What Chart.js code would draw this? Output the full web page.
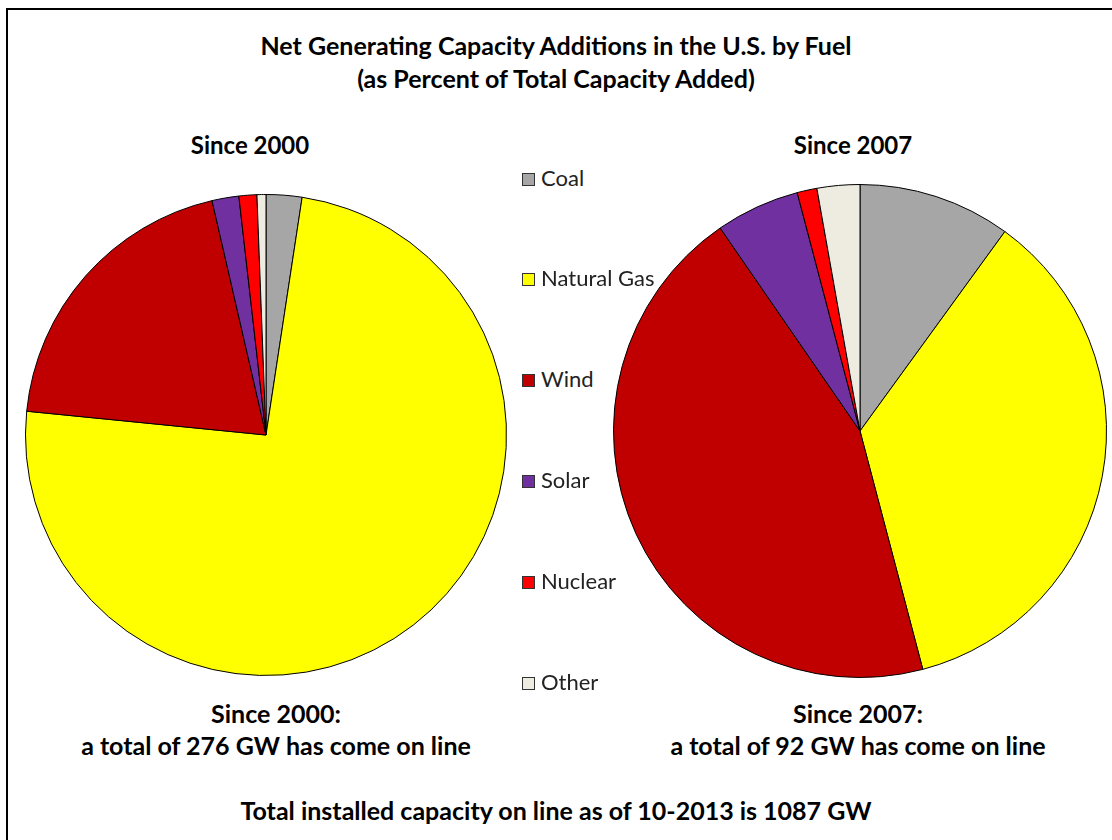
<!DOCTYPE html>
<html lang="en">
<head>
<meta charset="UTF-8">
<title>Net Generating Capacity Additions</title>
<script src="https://cdn.jsdelivr.net/npm/chart.js@4.4.0/dist/chart.umd.min.js"></script>
<style>
  body { margin: 0; background: #fff; }
  #page { position: relative; width: 1112px; height: 840px; overflow: hidden; font-family: Lato, Carlito, Calibri, sans-serif; color: #000; }
  #frame { position: absolute; left: 6px; top: 8px; width: 1120px; height: 900px; border-left: 2px solid #000; border-top: 2px solid #000; }
  .txt { position: absolute; text-align: center; white-space: nowrap; line-height: 1; }
  .b { font-weight: bold; }
  canvas { position: absolute; }
  .leg { position: absolute; left: 522px; font-size: 22px; color: #222; line-height: 1; white-space: nowrap; }
  .leg span { display: inline-block; width: 11px; height: 11px; border: 1px solid #333; margin-right: 6px; vertical-align: 0px; }
</style>
</head>
<body>
<div id="page">
  <div id="frame"></div>
  <div class="txt b" style="left:206px;width:700px;top:33px;font-size:25px;">Net Generating Capacity Additions in the U.S. by Fuel</div>
  <div class="txt b" style="left:206px;width:700px;top:66px;font-size:25px;">(as Percent of Total Capacity Added)</div>
  <div class="txt b" style="left:100px;width:300px;top:133px;font-size:24px;">Since 2000</div>
  <div class="txt b" style="left:703px;width:300px;top:133px;font-size:24px;">Since 2007</div>

  <canvas id="pie2000" width="482" height="482" style="left:25px;top:194px;"></canvas>
  <canvas id="pie2007" width="494" height="494" style="left:613px;top:184px;"></canvas>

  <div id="legend"></div>

  <div class="txt b" style="left:76px;width:400px;top:701px;font-size:25px;">Since 2000:</div>
  <div class="txt b" style="left:26px;width:500px;top:733px;font-size:25px;">a total of 276 GW has come on line</div>
  <div class="txt b" style="left:658px;width:400px;top:701px;font-size:25px;">Since 2007:</div>
  <div class="txt b" style="left:608px;width:500px;top:733px;font-size:25px;">a total of 92 GW has come on line</div>
  <div class="txt b" style="left:156px;width:800px;top:798px;font-size:25px;">Total installed capacity on line as of 10-2013 is 1087 GW</div>
</div>

<script>
// parts du total ajouté (%)
const fuels = ['Coal', 'Natural Gas', 'Wind', 'Solar', 'Nuclear', 'Other'];
const since2000 = [2.4, 74.1, 19.8, 1.8, 1.2, 0.6];
const since2007 = [10.0, 35.9, 44.5, 5.5, 1.3, 2.8];
const fuelColors = ['#a6a6a6', '#ffff00', '#c00000', '#7030a0', '#ff0000', '#eeece1'];

// legende verticale au milieu
const legendY = [167, 267, 368, 469, 570, 671];
const legend = document.getElementById('legend');
fuels.forEach((f, i) => {
  const d = document.createElement('div');
  d.className = 'leg';
  d.style.top = legendY[i] + 'px';
  d.innerHTML = '<span style="background:' + fuelColors[i] + '"></span>' + f;
  legend.appendChild(d);
});

function makePie(id, values) {
  return new Chart(document.getElementById(id), {
    type: 'pie',
    data: {
      labels: fuels,
      datasets: [{
        data: values,
        backgroundColor: fuelColors,
        borderColor: '#000',
        borderWidth: 1
      }]
    },
    options: {
      responsive: false,
      animation: false,
      layout: { padding: 0 },
      plugins: {
        legend: { display: false },
        tooltip: { enabled: false }
      }
    }
  });
}

makePie('pie2000', since2000);
makePie('pie2007', since2007);
</script>
</body>
</html>
